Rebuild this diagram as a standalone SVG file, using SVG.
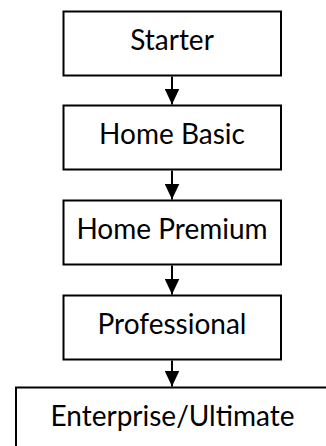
<svg xmlns="http://www.w3.org/2000/svg" width="326" height="446" viewBox="0 0 326 446">
<style>
.box{fill:#fff;stroke:#000;stroke-width:2}
.lbl{font-family:Lato,"Open Sans","Liberation Sans",sans-serif;font-size:28px;fill:#000;text-anchor:middle}
.conn{stroke:#000;stroke-width:2;fill:none}
</style>
<defs>
<marker id="ah" markerUnits="userSpaceOnUse" markerWidth="17" markerHeight="15" refX="16" refY="7.5" orient="auto">
<path d="M0,0 L16,7.5 L0,15 Z" fill="#000"/>
</marker>
</defs>
<rect width="326" height="446" fill="#fff"/>
<g id="starter"><rect class="box" x="63.5" y="11.5" width="217.5" height="64"/><text class="lbl" x="172" y="49.5">Starter</text></g>
<g id="home-basic"><rect class="box" x="63.5" y="105.5" width="217.5" height="64"/><text class="lbl" x="172" y="143.5">Home Basic</text></g>
<g id="home-premium"><rect class="box" x="63.5" y="200.5" width="217.5" height="64"/><text class="lbl" x="172" y="238.5">Home Premium</text></g>
<g id="professional"><rect class="box" x="63.5" y="295.5" width="217.5" height="64"/><text class="lbl" x="172" y="333.5">Professional</text></g>
<g id="enterprise"><rect class="box" x="16" y="387.5" width="330" height="70"/><text class="lbl" x="172.5" y="425.5">Enterprise/Ultimate</text></g>
<g id="connectors">
<line class="conn" x1="172" y1="76.5" x2="172" y2="104.5" marker-end="url(#ah)"/>
<line class="conn" x1="172" y1="170.5" x2="172" y2="199.5" marker-end="url(#ah)"/>
<line class="conn" x1="172" y1="265.5" x2="172" y2="294.5" marker-end="url(#ah)"/>
<line class="conn" x1="172" y1="360.5" x2="172" y2="386.5" marker-end="url(#ah)"/>
</g>
</svg>
